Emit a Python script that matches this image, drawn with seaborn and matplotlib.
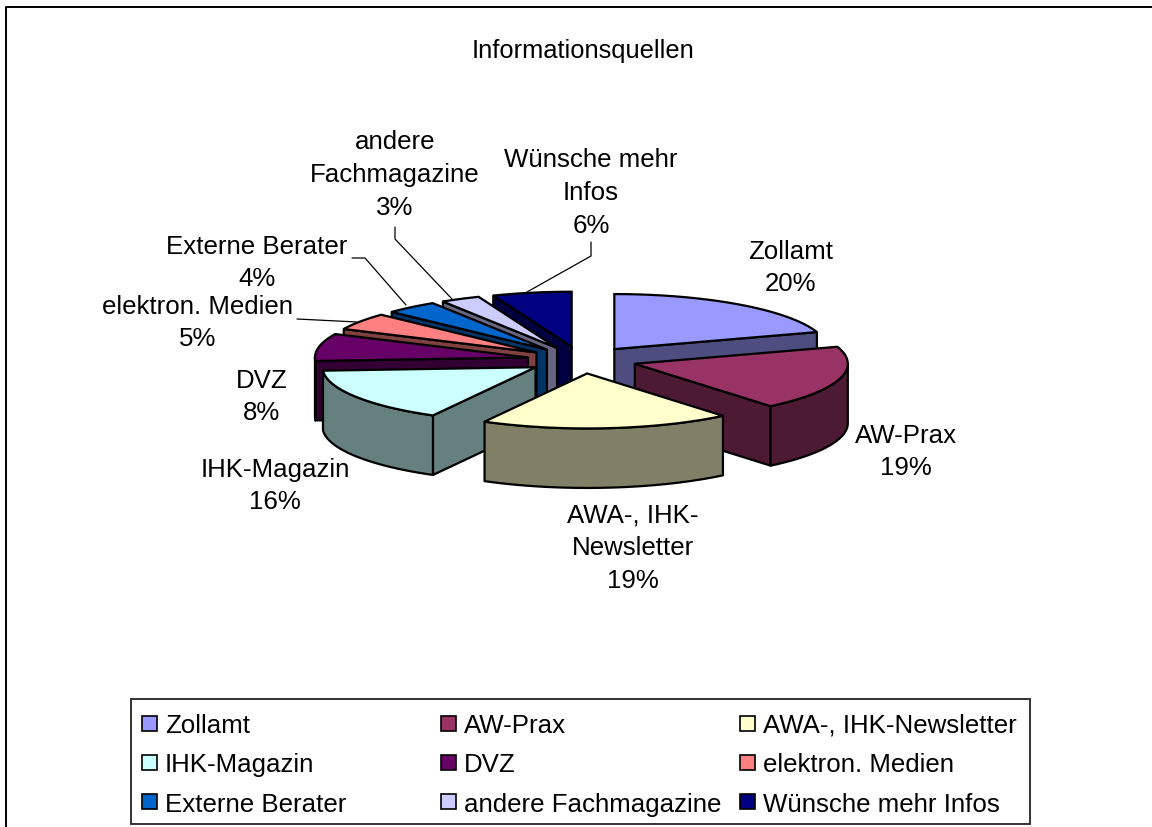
import numpy as np
import matplotlib
matplotlib.use('Agg')
import matplotlib.pyplot as plt
from matplotlib.patches import Polygon, Rectangle
import seaborn as sns

# Data
categories = ['Zollamt', 'AW-Prax', 'AWA-, IHK-Newsletter', 'IHK-Magazin', 'DVZ',
              'elektron. Medien', 'Externe Berater', 'andere Fachmagazine', 'Wünsche mehr Infos']
shares = [20, 19, 19, 16, 8, 5, 4, 3, 6]
top_colors = ['#9999FF', '#993366', '#FFFFCC', '#CCFFFF', '#660066',
              '#FF8080', '#0066CC', '#CCCCFF', '#000080']
wall_colors = ['#4D4D80', '#4D1A33', '#808066', '#668080', '#330033',
               '#804040', '#003366', '#666680', '#000040']
title_text = 'Informationsquellen'

sns.set_theme(style='white')
plt.rcParams['font.family'] = ['Liberation Sans', 'DejaVu Sans']
FS = 18.6

fig = plt.figure(figsize=(11.52, 8.28), dpi=100)
ax = fig.add_axes([0, 0, 1, 1])
ax.set_xlim(0, 1152)
ax.set_ylim(828, 0)
ax.axis('off')

# pie layout in pixels
CX, CY = 582, 361
RX, RY = 213, 55
EXPLODE_X, EXPLODE_Y = 55, 13.5
DEPTH = 59.5


def rim(apex, a, b):
    t = np.radians(np.linspace(a, b, 80))
    return np.column_stack([apex[0] + RX * np.sin(t), apex[1] - RY * np.cos(t)])


def wall(pts, color, z):
    low = pts[::-1] + [0, DEPTH]
    ax.add_patch(Polygon(np.vstack([pts, low]), closed=True, fc=color, ec='black', lw=1.6,
                         joinstyle='round', zorder=z))


# back to front: painter's order
palette = sns.color_palette(top_colors)
edges = np.cumsum([0] + shares) * 3.6
draw_order = [8, 7, 6, 5, 4, 0, 3, 1, 2]
for z, i in enumerate(draw_order):
    a, b = edges[i], edges[i + 1]
    mid = np.radians((a + b) / 2)
    apex = np.array([CX + EXPLODE_X * np.sin(mid), CY - EXPLODE_Y * np.cos(mid)])
    zz = 2 + z
    if np.sin(np.radians(a)) < 0:
        wall(np.vstack([apex, rim(apex, a, a + 1e-6)[0]]), wall_colors[i], zz)
    if np.sin(np.radians(b)) > 0:
        wall(np.vstack([apex, rim(apex, b, b + 1e-6)[0]]), wall_colors[i], zz)
    lo, hi = max(a, 90), min(b, 270)
    if hi > lo:
        wall(rim(apex, lo, hi), wall_colors[i], zz)
    ax.add_patch(Polygon(np.vstack([apex, rim(apex, a, b)]), closed=True, fc=palette[i],
                         ec='black', lw=1.6, zorder=zz))

# chart frame: cut off on the right and at the bottom
ax.plot([6, 6, 1152], [828, 8, 8], color='black', lw=1.4, zorder=1)

ax.text(583, 51, title_text, ha='center', va='center', fontsize=18.4, color='black')

# slice labels
labels = [(791, 268, 'Zollamt\n20%'), (906, 452, 'AW-Prax\n19%'),
          (633, 548, 'AWA-, IHK-\nNewsletter\n19%'), (275, 486, 'IHK-Magazin\n16%'),
          (262, 397, 'DVZ\n8%'), (198, 323, 'elektron. Medien\n5%'),
          (257, 263, 'Externe Berater\n4%'), (395, 175, 'andere\nFachmagazine\n3%'),
          (591, 193, 'Wünsche mehr\nInfos\n6%')]
for x, y, s in labels:
    ax.text(x, y, s, ha='center', va='center', fontsize=FS, color='black', linespacing=1.47,
            zorder=20)

# leader lines
leaders = [([297, 357], [320, 323]),
           ([352, 365, 406], [259, 259, 306]),
           ([395, 395, 452], [228, 240, 300]),
           ([591, 591, 527], [243, 257, 293])]
for xs, ys in leaders:
    ax.plot(xs, ys, color='black', lw=0.9, zorder=20)

# legend
ax.add_patch(Rectangle((131, 700), 899, 125, fc='white', ec='#333333', lw=1.4, zorder=15))
col_x = [142, 441, 740]
row_y = [724, 763, 803]
for i, name in enumerate(categories):
    x, y = col_x[i % 3], row_y[i // 3]
    ax.add_patch(Rectangle((x, y - 7.5), 15, 15, fc=palette[i], ec='black', lw=1.2, zorder=16))
    ax.text(x + 23, y + 2, name, ha='left', va='center', fontsize=FS, color='black', zorder=16)

fig.savefig('out.png', dpi=100)
